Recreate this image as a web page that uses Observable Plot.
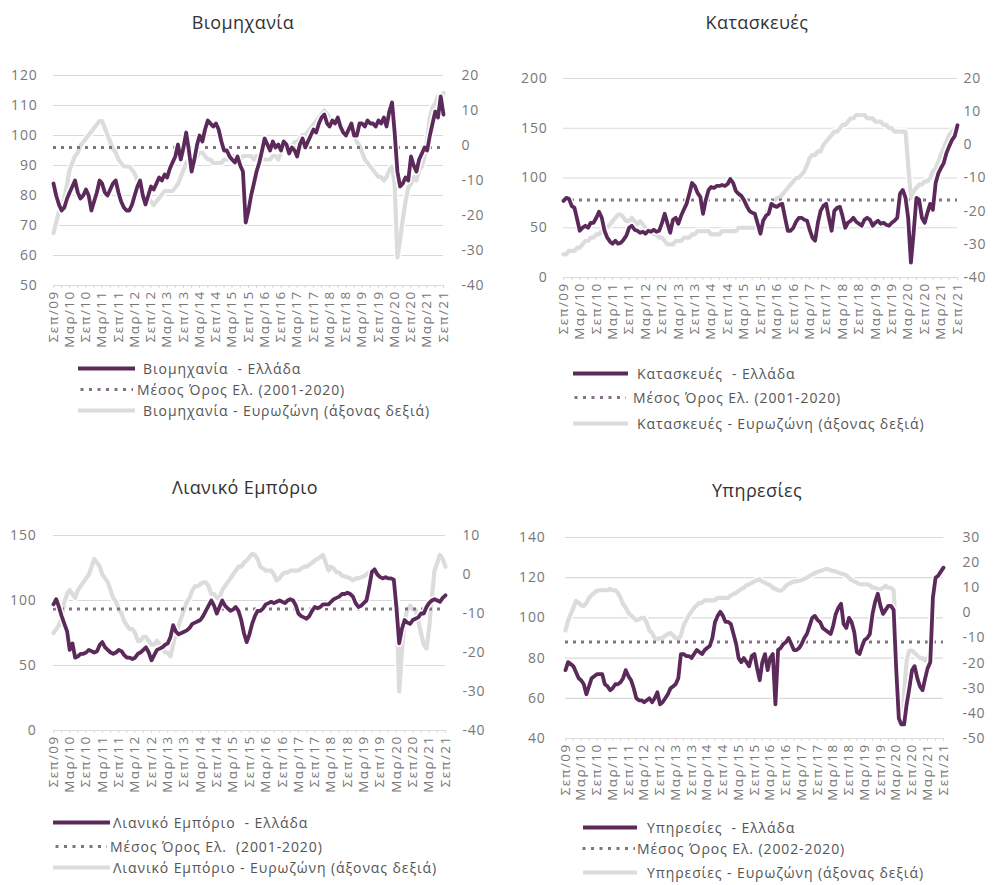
<!DOCTYPE html>
<html><head><meta charset="utf-8">
<script src="https://cdn.jsdelivr.net/npm/d3@7"></script>
<script src="https://cdn.jsdelivr.net/npm/@observablehq/plot@0.6"></script>
<style>
body{margin:0;background:#fff;font-family:"Open Sans",sans-serif;}
#root{position:relative;width:1000px;height:885px;overflow:hidden;background:#fff;}
.title{position:absolute;font-size:18px;letter-spacing:0.4px;color:#333;transform:translate(-50%,-50%);white-space:nowrap;}
.panel{position:absolute;}
.panel g[aria-label="x-axis tick label"] text{letter-spacing:1.4px;}
.panel g[aria-label="y-axis tick label"] text{letter-spacing:0.8px;}
.row{position:absolute;white-space:pre;display:flex;align-items:center;color:#555;font-size:14px;letter-spacing:0.9px;transform:translateY(-50%);}
.row svg{display:block;}
</style></head><body><div id="root"></div><script>
// ---- categories ----
const months = d3.utcMonth.range(new Date(Date.UTC(2009,8,1)), new Date(Date.UTC(2021,9,1)));
const tickLabels = ["Σεπ/09","Μαρ/10","Σεπ/10","Μαρ/11","Σεπ/11","Μαρ/12","Σεπ/12","Μαρ/13","Σεπ/13","Μαρ/14","Σεπ/14","Μαρ/15","Σεπ/15","Μαρ/16","Σεπ/16","Μαρ/17","Σεπ/17","Μαρ/18","Σεπ/18","Μαρ/19","Σεπ/19","Μαρ/20","Σεπ/20","Μαρ/21","Σεπ/21"];
const titles = ["Βιομηχανία","Κατασκευές","Λιανικό Εμπόριο","Υπηρεσίες"];
const legendGr = ["Βιομηχανία  - Ελλάδα","Κατασκευές  - Ελλάδα","Λιανικό Εμπόριο  - Ελλάδα","Υπηρεσίες  - Ελλάδα"];
const legendAvg = ["Μέσος Όρος Ελ. (2001-2020)","Μέσος Όρος Ελ. (2001-2020)","Μέσος Όρος Ελ.  (2001-2020)","Μέσος Όρος Ελ. (2002-2020)"];
const legendEz = ["Βιομηχανία - Ευρωζώνη (άξονας δεξιά)","Κατασκευές - Ευρωζώνη (άξονας δεξιά)","Λιανικό Εμπόριο - Ευρωζώνη (άξονας δεξιά)","Υπηρεσίες - Ευρωζώνη (άξονας δεξιά)"];

// ---- tick values ----
const leftTicks1 = [50,60,70,80,90,100,110,120];
const rightTicks1 = [20,10,0,-10,-20,-30,-40];
const leftTicks2 = [0,50,100,150,200];
const rightTicks2 = [20,10,0,-10,-20,-30,-40];
const leftTicks3 = [0,50,100,150];
const rightTicks3 = [10,0,-10,-20,-30,-40];
const leftTicks4 = [40,60,80,100,120,140];
const rightTicks4 = [30,20,10,0,-10,-20,-30,-40,-50];

// ---- averages (Greece) ----
const avgInd = 96, avgCon = 78, avgRet = 93.5, avgSer = 88;

// ---- series (monthly, Sep 2009 - Sep 2021) ----
const grInd = [
84, 80, 77, 75,
76, 79, 81, 83, 85, 81, 79, 80, 82, 80, 75, 78,
81, 85, 84, 81, 80, 82, 84, 85, 81, 78, 76, 75,
75, 77, 80, 83, 85, 80, 77, 80, 83, 82, 84, 86,
85, 87, 86, 89, 91, 93, 97, 92, 96, 101, 95, 88,
92, 97, 100, 98, 102, 105, 104, 103, 104, 102, 98, 95,
95, 93, 92, 91, 93, 90, 88, 71, 75, 80, 84, 88,
91, 95, 99, 97, 95, 98, 96, 97, 95, 98, 97, 94,
96, 95, 93, 97, 99, 96, 98, 100, 102, 101, 104, 106,
107, 104, 103, 105, 104, 106, 103, 101, 100, 102, 104, 100,
100, 104, 104, 103, 105, 104, 104, 103, 105, 104, 106, 103,
108, 111, 101, 88, 83, 84, 86, 85, 93, 90, 88, 92,
94, 96, 95, 100, 104, 108, 106, 113, 107];
const ezInd = [
-25, -22, -19, -17,
-15, -11, -7, -5, -3, -2, 0, 1, 2, 3, 4, 5,
6, 7, 7, 5, 3, 1, -1, -2, -4, -5, -6, -6,
-6, -7, -8, -10, -11, -13, -14, -15, -16, -17, -16, -15,
-14, -13, -13, -13, -13, -12, -11, -9, -7, -5, -4, -3,
-3, -3, -2, -2, -3, -4, -4, -5, -5, -5, -5, -4,
-4, -4, -3, -3, -3, -4, -3, -3, -3, -3, -4, -3,
-3, -4, -4, -4, -4, -3, -3, -4, -2, -1, -1, 0,
0, 1, 1, 2, 3, 3, 4, 5, 6, 7, 8, 9,
10, 9, 8, 7, 7, 6, 6, 5, 4, 4, 3, 3,
1, 0, -2, -4, -5, -6, -7, -8, -9, -9, -10, -9,
-7, -6, -11, -32, -27, -21, -16, -12, -11, -9, -10, -7,
-6, -3, 2, 8, 11, 12, 14, 13, 15];
const grCon = [
77, 80, 79, 72,
70, 58, 47, 50, 52, 50, 55, 55, 60, 66, 60, 47,
40, 36, 34, 37, 34, 35, 38, 42, 50, 52, 48, 47,
45, 46, 44, 47, 46, 48, 46, 47, 55, 64, 54, 45,
58, 60, 54, 62, 68, 74, 84, 95, 92, 85, 81, 64,
78, 88, 91, 90, 92, 92, 93, 92, 94, 99, 95, 87,
84, 82, 78, 72, 67, 65, 64, 54, 44, 57, 62, 64,
74, 72, 71, 73, 74, 60, 47, 47, 50, 56, 60, 60,
58, 57, 48, 40, 37, 55, 67, 72, 74, 60, 47, 67,
70, 71, 62, 50, 55, 57, 60, 56, 54, 52, 58, 60,
58, 52, 55, 57, 54, 55, 53, 52, 55, 57, 60, 84,
88, 80, 60, 15, 45, 80, 78, 60, 55, 65, 74, 68,
95, 105, 110, 115, 125, 132, 138, 142, 153];
const ezCon = [
-33, -33, -32, -32,
-32, -31, -31, -30, -29, -29, -28, -28, -27, -27, -26, -26,
-25, -24, -23, -22, -21, -21, -22, -23, -23, -22, -23, -24,
-23, -24, -25, -26, -26, -27, -27, -28, -28, -29, -30, -30,
-30, -29, -29, -29, -28, -28, -28, -27, -27, -26, -26, -26,
-26, -26, -27, -27, -27, -27, -26, -26, -26, -26, -26, -26,
-25, -25, -25, -25, -25, -25, -25, -25, -24, -22, -21, -19,
-18, -17, -16, -16, -15, -14, -13, -12, -11, -10, -10, -9,
-8, -6, -4, -3, -3, -2, -2, 0, 1, 2, 3, 4,
4, 5, 6, 6, 7, 8, 8, 9, 9, 9, 9, 8,
8, 8, 7, 7, 7, 6, 6, 5, 5, 4, 4, 4,
4, 4, -6, -16, -14, -13, -12, -12, -11, -11, -10, -8,
-7, -5, -3, -1, 1, 3, 4, 5, 6];
const grRet = [
97, 101, 95, 88,
82, 76, 62, 67, 56, 57, 59, 59, 60, 62, 61, 60,
61, 66, 68, 64, 62, 60, 59, 60, 62, 61, 58, 56,
56, 55, 56, 59, 60, 62, 64, 60, 54, 58, 62, 63,
64, 66, 67, 72, 81, 76, 74, 75, 76, 77, 79, 82,
83, 84, 85, 88, 92, 96, 100, 96, 90, 95, 100, 96,
94, 92, 93, 95, 92, 85, 75, 68, 74, 82, 88, 92,
92, 94, 97, 98, 99, 98, 99, 100, 99, 98, 100, 101,
100, 96, 90, 88, 87, 86, 88, 92, 95, 94, 95, 97,
97, 97, 99, 101, 102, 103, 105, 105, 106, 105, 103, 98,
95, 96, 98, 100, 110, 122, 124, 120, 118, 117, 118, 117,
117, 116, 95, 67, 78, 85, 83, 82, 85, 86, 87, 90,
90, 95, 98, 100, 101, 100, 99, 102, 104];
const ezRet = [
-15, -14, -13, -11,
-7, -5, -4, -5, -6, -4, -3, -2, -1, 0, 2, 4,
3, 2, 0, -1, -2, -4, -6, -7, -9, -10, -12, -13,
-14, -14, -15, -17, -17, -16, -16, -17, -18, -18, -17, -18,
-19, -20, -20, -21, -18, -15, -13, -11, -9, -7, -6, -4,
-3, -3, -2.5, -2, -2, -3, -5, -5, -6, -6, -4, -3,
-2, -1, 0, 1, 2, 2, 3, 3.6, 4.5, 5.3, 5, 4,
2, 1.5, 1, 1, 1, 0, -1.5, -1, 0, 0.5, 0.5, 1,
1, 1, 1, 1.5, 2, 2, 2.5, 3, 3.6, 4, 4.5, 5,
3, 1, 2, 1.5, 0.6, 0.5, -0.3, -0.5, -0.7, -1, -1.5, -1,
-1, -0.7, -0.5, 0, 0.6, 0.5, -0.3, -0.3, -0.3, -0.5, -0.5, -1,
-1.5, -1.5, -6, -30, -20, -12, -9, -8, -9, -9, -12, -15,
-18, -19, -14, -6, 1, 3, 5, 4, 2];
const grSer = [
74, 78, 77, 76,
73, 70, 69, 67, 62, 66, 70, 71, 72, 72, 72, 67,
66, 64, 65, 67, 67, 68, 70, 74, 71, 69, 65, 60,
59, 59, 58, 59, 60, 58, 60, 63, 57, 58, 60, 62,
65, 66, 67, 70, 82, 82, 81, 81, 80, 82, 84, 83,
82, 84, 85, 86, 90, 98, 101, 103, 101, 98, 98, 97,
92, 87, 80, 78, 80, 78, 76, 81, 82, 75, 69, 78,
82, 74, 80, 82, 57, 84, 85, 87, 88, 90, 87, 84,
84, 85, 87, 90, 92, 96, 100, 101, 99, 98, 95, 94,
93, 92, 96, 102, 105, 107, 97, 95, 100, 98, 93, 83,
82, 86, 89, 90, 92, 102, 108, 112, 106, 102, 104, 106,
106, 104, 75, 50, 47, 47, 57, 65, 74, 76, 70, 66,
64, 70, 75, 78, 110, 120, 121, 123, 125];
const ezSer = [
-7, -3, -0.5, 2,
4.8, 4, 3, 2.8, 4, 6, 7, 8, 8.8, 9, 9, 9,
9, 9.5, 9, 9, 8, 6, 3.5, 2, 0, -1, -2, -3,
-2.5, -2, -2, -4, -7, -8, -10, -10.5, -10, -10, -9, -8.5,
-8, -9, -10, -10.5, -9, -5, -3, -1, 0.5, 2, 3, 4,
4, 5, 5, 5, 5, 5, 6, 6, 6, 6, 6, 7,
7.5, 8, 8.8, 9.5, 10, 11, 11.4, 12, 12.5, 13, 13.4, 12.5,
12, 11.4, 11, 10, 9.5, 9, 8.8, 9.5, 10.8, 11.5, 12, 12.5,
12.5, 12.8, 13, 13.5, 14, 14.7, 15.2, 15.8, 16.3, 16.7, 17, 17.4,
17.4, 17, 16.7, 16.5, 16, 15.7, 15.4, 15, 14, 13, 12.5, 12,
11.4, 11.4, 11.4, 11.4, 11, 10, 10, 9.4, 9.4, 10, 10.8, 10,
10, 9, -12, -42, -45, -32, -19, -15, -15, -16, -17, -18,
-18, -19, -18, -16, 2, 14, 16, 17, 18];

// ---- drawing ----
const PURPLE = "#5b2a5b", EZGRAY = "#dcdcdc", DOT = "#857085", GRID = "#d9d9d9", TXT = "#777";
const labelDates = tickLabels.map((_, i) => months[i * 6]);
const labelOf = new Map(labelDates.map((d, i) => [+d, tickLabels[i]]));
const minorDates = months.filter((_, i) => i % 3 === 0);
const root = document.getElementById("root");

function panel(c) {
  const rightPos = c.rightTicks.map(c.toLeft);
  const rightLab = new Map(rightPos.map((p, i) => [p, String(c.rightTicks[i])]));
  const gr = months.map((d, i) => ({date: d, v: c.gr[i]}));
  const ez = months.map((d, i) => ({date: d, v: c.toLeft(c.ez[i])}));
  const svg = Plot.plot({
    width: 500, height: 320,
    marginLeft: c.m[0], marginRight: c.m[1], marginTop: c.m[2], marginBottom: c.m[3],
    style: {background: "transparent", fontFamily: "'Open Sans', sans-serif", overflow: "visible"},
    x: {type: "utc", domain: [months[0], months[months.length - 1]], axis: null},
    y: {domain: c.domain, axis: null},
    marks: [
      Plot.ruleY(c.leftTicks, {stroke: GRID, strokeWidth: 1.2}),
      Plot.axisX(minorDates, {anchor: "bottom", tickSize: 3, stroke: GRID, tickFormat: () => "", label: null}),
      Plot.axisX(labelDates, {anchor: "bottom", tickSize: 0, tickPadding: 5, tickRotate: -90, fontSize: 13.5, fill: TXT, tickFormat: d => labelOf.get(+d), label: null}),
      Plot.axisY(c.leftTicks, {anchor: "left", tickSize: 0, tickPadding: c.pl, fontSize: 14, fill: TXT, tickFormat: d => String(d), label: null}),
      Plot.axisY(rightPos, {anchor: "right", tickSize: 0, tickPadding: c.pr, fontSize: 14, fill: TXT, tickFormat: d => rightLab.get(d), label: null}),
      Plot.line(ez, {x: "date", y: "v", stroke: "#ffffff", strokeWidth: 7}),
      Plot.line(ez, {x: "date", y: "v", stroke: EZGRAY, strokeWidth: 4.2}),
      Plot.ruleY([c.avg], {stroke: DOT, strokeWidth: 3, strokeDasharray: "3,5"}),
      Plot.line(gr, {x: "date", y: "v", stroke: "#ffffff", strokeWidth: 7, strokeOpacity: 0.9}),
      Plot.line(gr, {x: "date", y: "v", stroke: PURPLE, strokeWidth: 3.8})
    ]
  });
  svg.classList.add("panel");
  svg.style.left = c.left + "px";
  svg.style.top = c.top + "px";
  root.appendChild(svg);

  const t = document.createElement("div");
  t.className = "title"; t.textContent = c.title;
  t.style.left = c.tx + "px"; t.style.top = c.ty + "px";
  root.appendChild(t);

  const L = c.legend;
  const kinds = ["gr", "avg", "ez"];
  kinds.forEach((kind, k) => {
    const d = document.createElement("div");
    d.className = "row";
    d.style.left = L.x[k] + "px"; d.style.top = L.y[k] + "px";
    const w = L.w[k];
    let line;
    if (kind === "gr") line = `<line x1="0" y1="5" x2="${w}" y2="5" stroke="${PURPLE}" stroke-width="4"/>`;
    else if (kind === "avg") line = `<line x1="1.5" y1="5" x2="${w}" y2="5" stroke="${DOT}" stroke-width="3" stroke-dasharray="3,5.5"/>`;
    else line = `<line x1="0" y1="5" x2="${w}" y2="5" stroke="${EZGRAY}" stroke-width="4"/>`;
    d.innerHTML = `<svg width="${w}" height="10">${line}</svg><span style="margin-left:${L.t[k]}px">${c.lg[k]}</span>`;
    root.appendChild(d);
  });
}

panel({title: titles[0], tx: 243, ty: 22, left: 0, top: 45, m: [53, 57, 30, 80], pl: 16, pr: 18,
  domain: [50, 120], leftTicks: leftTicks1, rightTicks: rightTicks1, toLeft: r => 120 + (r - 20) * 70 / 60,
  gr: grInd, ez: ezInd, avg: avgInd, lg: [legendGr[0], legendAvg[0], legendEz[0]],
  legend: {x: [78, 79, 78], w: [57, 54, 57], y: [368, 389, 410], t: [8, 4, 8]}});
panel({title: titles[1], tx: 757, ty: 22, left: 500, top: 45, m: [63, 43, 33, 88], pl: 16, pr: 6,
  domain: [0, 200], leftTicks: leftTicks2, rightTicks: rightTicks2, toLeft: r => (r + 40) * 200 / 60,
  gr: grCon, ez: ezCon, avg: avgCon, lg: [legendGr[1], legendAvg[1], legendEz[1]],
  legend: {x: [573, 573, 573], w: [55, 53, 55], y: [373, 397, 423], t: [9, 7, 9]}});
panel({title: titles[2], tx: 245, ty: 487, left: 0, top: 505, m: [53, 55, 30, 95], pl: 17, pr: 17,
  domain: [0, 150], leftTicks: leftTicks3, rightTicks: rightTicks3, toLeft: r => (r + 40) * 3,
  gr: grRet, ez: ezRet, avg: avgRet, lg: [legendGr[2], legendAvg[2], legendEz[2]],
  legend: {x: [53, 54, 53], w: [57, 53, 57], y: [822, 846, 867], t: [3, 3, 3]}});
panel({title: titles[3], tx: 757, ty: 490, left: 500, top: 505, m: [65, 57, 32, 87], pl: 20, pr: 19,
  domain: [40, 140], leftTicks: leftTicks4, rightTicks: rightTicks4, toLeft: r => 40 + (r + 50) * 100 / 80,
  gr: grSer, ez: ezSer, avg: avgSer, lg: [legendGr[3], legendAvg[3], legendEz[3]],
  legend: {x: [583, 581, 583], w: [54, 54, 54], y: [827, 848, 872], t: [10, 2, 10]}});
</script></body></html>
